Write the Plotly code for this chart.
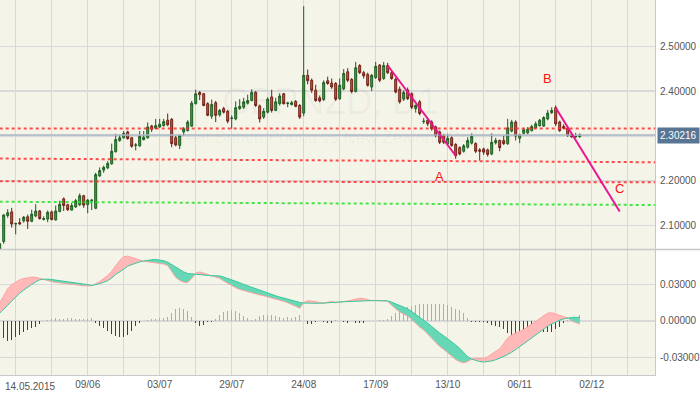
import numpy as np
import pandas as pd
import plotly.graph_objects as go

# ---------------- data ----------------
dates = pd.bdate_range("2015-05-08", "2015-12-31")

opens = [2.040, 2.065, 2.123, 2.131, 2.104, 2.107, 2.111, 2.120, 2.110, 2.122, 2.133, 2.114, 2.115, 2.131, 2.113, 2.132,
         2.160, 2.147, 2.135, 2.142, 2.147, 2.167, 2.147, 2.156, 2.139, 2.211, 2.224, 2.229, 2.238, 2.265, 2.290, 2.296,
         2.309, 2.296, 2.279, 2.278, 2.292, 2.296, 2.322, 2.317, 2.320, 2.323, 2.335, 2.337, 2.296, 2.279, 2.309, 2.312,
         2.322, 2.372, 2.397, 2.394, 2.372, 2.344, 2.374, 2.347, 2.361, 2.355, 2.339, 2.338, 2.361, 2.364, 2.373, 2.379,
         2.397, 2.367, 2.342, 2.353, 2.387, 2.357, 2.372, 2.394, 2.372, 2.370, 2.377, 2.368, 2.351, 2.435, 2.424, 2.402,
         2.385, 2.381, 2.423, 2.418, 2.417, 2.383, 2.405, 2.443, 2.426, 2.399, 2.457, 2.441, 2.437, 2.409, 2.430, 2.458,
         2.428, 2.457, 2.441, 2.426, 2.404, 2.382, 2.402, 2.394, 2.361, 2.376, 2.332, 2.335, 2.331, 2.320, 2.309, 2.301,
         2.283, 2.296, 2.281, 2.274, 2.266, 2.275, 2.284, 2.283, 2.269, 2.271, 2.269, 2.260, 2.285, 2.290, 2.290, 2.283,
         2.311, 2.331, 2.295, 2.306, 2.307, 2.312, 2.318, 2.323, 2.322, 2.338, 2.352, 2.363, 2.331, 2.321, 2.317, 2.303,
         2.298, 2.2985]
highs = [2.062, 2.126, 2.137, 2.140, 2.107, 2.117, 2.122, 2.125, 2.136, 2.148, 2.135, 2.121, 2.134, 2.134, 2.145, 2.156,
         2.163, 2.149, 2.151, 2.160, 2.172, 2.169, 2.160, 2.160, 2.218, 2.230, 2.234, 2.244, 2.283, 2.305, 2.303, 2.311,
         2.312, 2.298, 2.284, 2.311, 2.311, 2.330, 2.325, 2.338, 2.338, 2.338, 2.350, 2.340, 2.300, 2.304, 2.320, 2.335,
         2.378, 2.403, 2.400, 2.396, 2.375, 2.381, 2.378, 2.360, 2.365, 2.358, 2.346, 2.377, 2.382, 2.385, 2.392, 2.404,
         2.400, 2.370, 2.362, 2.386, 2.403, 2.385, 2.395, 2.396, 2.376, 2.378, 2.380, 2.371, 2.589, 2.448, 2.428, 2.414,
         2.390, 2.424, 2.432, 2.428, 2.420, 2.428, 2.449, 2.451, 2.429, 2.465, 2.460, 2.445, 2.441, 2.438, 2.465, 2.460,
         2.465, 2.463, 2.444, 2.430, 2.410, 2.402, 2.408, 2.397, 2.370, 2.380, 2.340, 2.338, 2.335, 2.323, 2.312, 2.305,
         2.305, 2.299, 2.284, 2.277, 2.282, 2.297, 2.306, 2.286, 2.273, 2.274, 2.272, 2.306, 2.296, 2.292, 2.300, 2.338,
         2.336, 2.335, 2.305, 2.318, 2.320, 2.325, 2.332, 2.338, 2.344, 2.358, 2.364, 2.368, 2.334, 2.326, 2.321, 2.306,
         2.307, 2.306]
lows = [2.030, 2.060, 2.118, 2.096, 2.081, 2.103, 2.107, 2.093, 2.108, 2.119, 2.114, 2.112, 2.108, 2.112, 2.112, 2.130,
        2.133, 2.133, 2.134, 2.140, 2.144, 2.140, 2.128, 2.135, 2.137, 2.209, 2.218, 2.226, 2.236, 2.263, 2.287, 2.294,
        2.292, 2.274, 2.268, 2.276, 2.290, 2.294, 2.309, 2.315, 2.318, 2.321, 2.322, 2.275, 2.277, 2.271, 2.300, 2.310,
        2.320, 2.370, 2.380, 2.366, 2.344, 2.338, 2.331, 2.343, 2.350, 2.328, 2.316, 2.335, 2.358, 2.360, 2.370, 2.377,
        2.365, 2.330, 2.338, 2.350, 2.352, 2.355, 2.368, 2.370, 2.364, 2.368, 2.364, 2.338, 2.344, 2.415, 2.396, 2.376,
        2.375, 2.378, 2.414, 2.405, 2.378, 2.380, 2.402, 2.420, 2.395, 2.397, 2.438, 2.428, 2.410, 2.400, 2.427, 2.420,
        2.425, 2.438, 2.425, 2.395, 2.372, 2.378, 2.380, 2.360, 2.352, 2.346, 2.327, 2.322, 2.312, 2.297, 2.282, 2.282,
        2.280, 2.276, 2.249, 2.257, 2.263, 2.272, 2.281, 2.262, 2.245, 2.258, 2.254, 2.257, 2.281, 2.266, 2.280, 2.280,
        2.308, 2.290, 2.284, 2.303, 2.304, 2.310, 2.316, 2.321, 2.320, 2.335, 2.349, 2.322, 2.309, 2.315, 2.298, 2.296,
        2.295, 2.296]
closes = [2.060, 2.124, 2.129, 2.104, 2.105, 2.104, 2.119, 2.110, 2.126, 2.133, 2.116, 2.116, 2.130, 2.114, 2.133, 2.148,
          2.145, 2.136, 2.145, 2.156, 2.167, 2.146, 2.157, 2.157, 2.214, 2.223, 2.230, 2.239, 2.266, 2.292, 2.296, 2.306,
          2.294, 2.277, 2.280, 2.299, 2.297, 2.320, 2.315, 2.323, 2.326, 2.332, 2.325, 2.283, 2.280, 2.301, 2.316, 2.331,
          2.373, 2.394, 2.392, 2.368, 2.346, 2.370, 2.346, 2.357, 2.353, 2.333, 2.340, 2.363, 2.366, 2.376, 2.379, 2.397,
          2.368, 2.338, 2.355, 2.382, 2.357, 2.376, 2.389, 2.372, 2.373, 2.374, 2.366, 2.342, 2.435, 2.423, 2.402, 2.379,
          2.378, 2.419, 2.417, 2.409, 2.382, 2.413, 2.439, 2.424, 2.399, 2.452, 2.441, 2.434, 2.413, 2.435, 2.455, 2.424,
          2.457, 2.441, 2.428, 2.398, 2.376, 2.397, 2.383, 2.364, 2.368, 2.350, 2.333, 2.327, 2.316, 2.301, 2.286, 2.286,
          2.295, 2.279, 2.256, 2.260, 2.278, 2.290, 2.299, 2.266, 2.266, 2.264, 2.259, 2.286, 2.290, 2.274, 2.283, 2.318,
          2.331, 2.300, 2.303, 2.314, 2.315, 2.321, 2.327, 2.335, 2.341, 2.351, 2.357, 2.327, 2.312, 2.317, 2.301, 2.298,
          2.299, 2.30216]

macd_main = [0.0150, 0.0205, 0.0265, 0.0300, 0.0322, 0.0339, 0.0350, 0.0358, 0.0362, 0.0360, 0.0352,
             0.0340, 0.0330, 0.0322, 0.0318, 0.0315, 0.0312, 0.0310, 0.0306, 0.0300, 0.0295, 0.0290, 0.0287, 0.0290,
             0.0305, 0.0325, 0.0350, 0.0375, 0.0410, 0.0455, 0.0500, 0.0530, 0.0535, 0.0525, 0.0512, 0.0500,
             0.0493, 0.0488, 0.0484, 0.0480, 0.0475, 0.0470, 0.0458, 0.0410, 0.0360, 0.0335, 0.0320, 0.0318, 0.0350,
             0.0395, 0.0405, 0.0395, 0.0380, 0.0370,
             0.0362, 0.0352, 0.0330, 0.0310, 0.0290, 0.0275, 0.0260, 0.0250, 0.0240, 0.0230, 0.0222, 0.0215, 0.0208,
             0.0200, 0.0192, 0.0182, 0.0172, 0.0162, 0.0150, 0.0138, 0.0122, 0.0105,
             0.0150, 0.0168, 0.0165, 0.0160, 0.0152, 0.0146, 0.0155, 0.0162, 0.0150, 0.0155, 0.0163, 0.0165,
             0.0172, 0.0182, 0.0188, 0.0185, 0.0175, 0.0168, 0.0168,
             0.0170, 0.0168, 0.0162, 0.0130, 0.0100, 0.0075, 0.0058, 0.0040, 0.0012, -0.0020, -0.0050, -0.0074,
             -0.0110, -0.0145, -0.0180, -0.0210, -0.0235, -0.0260, -0.0290, -0.0318, -0.0336, -0.0345, -0.0335,
             -0.0315, -0.0308, -0.0308, -0.0308, -0.0295, -0.0272, -0.0250, -0.0230, -0.0185, -0.0140, -0.0115,
             -0.0100, -0.0088, -0.0070, -0.0048, -0.0025, 0.0000, 0.0022, 0.0045, 0.0065, 0.0068, 0.0058, 0.0045, 0.0032,
             0.0026, 0.0000, -0.0015, -0.0025]
macd_signal = [0.0065, 0.0095, 0.0130, 0.0165, 0.0200, 0.0229, 0.0255, 0.0282, 0.0302, 0.0322, 0.0340,
               0.0345, 0.0345, 0.0342, 0.0338, 0.0333, 0.0328, 0.0324, 0.0320, 0.0316, 0.0312, 0.0308, 0.0300, 0.0293,
               0.0298, 0.0308, 0.0320, 0.0332, 0.0355, 0.0385, 0.0405, 0.0430, 0.0452, 0.0465, 0.0478, 0.0488,
               0.0495, 0.0500, 0.0505, 0.0508, 0.0505, 0.0497, 0.0485, 0.0465, 0.0440, 0.0420, 0.0405, 0.0392, 0.0388,
               0.0385, 0.0380, 0.0378, 0.0376, 0.0374,
               0.0373, 0.0372, 0.0362, 0.0352, 0.0342, 0.0330, 0.0316, 0.0302, 0.0290, 0.0278, 0.0265, 0.0252, 0.0238,
               0.0228, 0.0218, 0.0208, 0.0198, 0.0188, 0.0180, 0.0171, 0.0162, 0.0153,
               0.0149, 0.0146, 0.0145, 0.0146, 0.0146, 0.0147, 0.0149, 0.0151, 0.0154, 0.0157, 0.0159, 0.0161,
               0.0162, 0.0164, 0.0165, 0.0166, 0.0167, 0.0168, 0.0168,
               0.0168, 0.0167, 0.0166, 0.0155, 0.0140, 0.0125, 0.0112, 0.0100, 0.0078, 0.0055, 0.0032, 0.0008,
               -0.0018, -0.0045, -0.0075, -0.0100, -0.0122, -0.0145, -0.0170, -0.0198, -0.0226, -0.0260, -0.0295,
               -0.0315, -0.0327, -0.0335, -0.0339, -0.0337, -0.0330, -0.0320, -0.0309, -0.0293, -0.0277, -0.0258,
               -0.0236, -0.0212, -0.0188, -0.0162, -0.0138, -0.0112, -0.0088, -0.0065, -0.0043, -0.0025, -0.0008,
               0.0006, 0.0017, 0.0024, 0.0029, 0.0030, 0.0030]
macd_hist = [-0.0120, -0.0143, -0.0165, -0.0157, -0.0135, -0.0116, -0.0088, -0.0074, -0.0060, -0.0047, -0.0025,
             0.0003, 0.0008, 0.0019, 0.0022, 0.0014, 0.0019, 0.0022, 0.0025, 0.0014, 0.0014, 0.0019, 0.0019, 0.0025,
             -0.0014, -0.0041, -0.0060, -0.0080, -0.0107, -0.0127, -0.0135, -0.0135, -0.0113, -0.0080, -0.0043, -0.0020,
             0.0003, 0.0008, 0.0014, 0.0018, 0.0022, 0.0022, 0.0030, 0.0069, 0.0099, 0.0107, 0.0102, 0.0083, 0.0036,
             -0.0020, -0.0039, -0.0033, -0.0010, -0.0006,
             0.0019, 0.0050, 0.0077, 0.0085, 0.0090, 0.0083, 0.0063, 0.0044, 0.0028, 0.0008, 0.0017, 0.0041, 0.0052,
             0.0047, 0.0047, 0.0044, 0.0030, 0.0028, 0.0030, 0.0028, 0.0030, 0.0050,
             0.0000, -0.0028, -0.0022, -0.0011, 0.0000, -0.0011, -0.0019, -0.0014, 0.0008, 0.0000, -0.0011, -0.0019,
             0.0000, -0.0019, -0.0019, -0.0014, 0.0000, 0.0000, 0.0003,
             0.0008, 0.0008, 0.0014, 0.0041, 0.0063, 0.0085, 0.0104, 0.0118, 0.0127, 0.0132, 0.0138, 0.0140, 0.0140,
             0.0140, 0.0140, 0.0143, 0.0138, 0.0130, 0.0118, 0.0099, 0.0090, 0.0063, 0.0022,
             -0.0006, -0.0006, -0.0006, -0.0011, -0.0019, -0.0033, -0.0041, -0.0052, -0.0069, -0.0096, -0.0124,
             -0.0121, -0.0116, -0.0110, -0.0107, -0.0102, -0.0096, -0.0090, -0.0088, -0.0088, -0.0088, -0.0069,
             -0.0047, -0.0019, 0.0008, 0.0022, 0.0036, 0.0047]

tick_dates = ["2015-05-14", "2015-06-09", "2015-07-03", "2015-07-29", "2015-08-24",
              "2015-09-17", "2015-10-13", "2015-11-06", "2015-12-02"]
tick_labels = ["14.05.2015", "09/06", "03/07", "29/07", "24/08", "17/09", "13/10", "06/11", "02/12"]

price_ticks = [2.10, 2.20, 2.30, 2.40, 2.50]
macd_ticks = [-0.03, 0.0, 0.03]
macd_tick_labels = ["-0.03000", "0.00000", "0.03000"]

last_price = 2.30216
# support / resistance lines: (start date, start price, end date, end price)
level_lines_red = [("2015-05-08", 2.3168, "2015-12-24", 2.3165),
                   ("2015-05-08", 2.2497, "2015-12-24", 2.2415),
                   ("2015-05-08", 2.1990, "2015-12-24", 2.1967)]
level_lines_green = [("2015-05-08", 2.1536, "2015-12-24", 2.1463)]
wave_lines = [("2015-09-22", 2.457, "2015-10-15", 2.256),
              ("2015-11-19", 2.363, "2015-12-11", 2.132)]
wave_labels = [("A", "2015-10-09", 2.2095), ("B", "2015-11-17", 2.4285), ("C", "2015-12-11", 2.183)]

# ---------------- helpers ----------------
n = min(len(opens), len(highs), len(lows), len(closes))
pos_all = np.arange(len(dates))
xb = pos_all[:n].astype(float)


def dpos(d):
    return float(dates.get_loc(pd.Timestamp(d)))


p0 = dpos(tick_dates[0])
x_range = [p0 - 3.925, p0 + 159.825]
grid_vals = list(np.arange(p0, x_range[1], 9.0))
label_pos = {dpos(d): lab for d, lab in zip(tick_dates, tick_labels)}
grid_text = [("" if (v == p0) else label_pos.get(v, "")) for v in grid_vals]

GRID = "#d9d9d9"
BG = "#f4f4e8"
FONT = "Liberation Sans, Arial, sans-serif"
TXT = "#555555"

fig = go.Figure()

# watermark (behind everything)
xc = (x_range[0] + x_range[1]) / 2 + 0.7
fig.add_trace(go.Scatter(x=[xc, xc], y=[2.370, 2.2944], mode="text",
                         text=["GBPNZD, D1", "Great Britain Pound vs New Zealand Dollar"],
                         textfont=dict(size=[36, 17], color="rgba(0,0,0,0.04)", family=FONT),
                         hoverinfo="skip", showlegend=False, xaxis="x", yaxis="y"))

# current price line
fig.add_trace(go.Scatter(x=[x_range[0] - 5, x_range[1] + 5], y=[last_price, last_price], mode="lines",
                         line=dict(color="#a9b7c6", width=1.5), hoverinfo="skip", showlegend=False,
                         xaxis="x", yaxis="y"))

# candles
fig.add_trace(go.Candlestick(
    x=xb, open=opens[:n], high=highs[:n], low=lows[:n], close=closes[:n],
    increasing=dict(line=dict(color="#1b5e20", width=1), fillcolor="#3f9e48"),
    decreasing=dict(line=dict(color="#6e1e14", width=1), fillcolor="#c9564a"),
    whiskerwidth=0, showlegend=False, hoverinfo="skip", xaxis="x", yaxis="y"))

# support / resistance dotted lines
for (d0, v0, d1, v1) in level_lines_red:
    fig.add_trace(go.Scatter(x=[dpos(d0), dpos(d1)], y=[v0, v1], mode="lines",
                             line=dict(color="rgba(255,45,45,0.85)", width=2, dash="dot"),
                             hoverinfo="skip", showlegend=False, xaxis="x", yaxis="y"))
for (d0, v0, d1, v1) in level_lines_green:
    fig.add_trace(go.Scatter(x=[dpos(d0), dpos(d1)], y=[v0, v1], mode="lines",
                             line=dict(color="rgba(40,225,40,0.85)", width=2, dash="dot"),
                             hoverinfo="skip", showlegend=False, xaxis="x", yaxis="y"))

# wave lines
for (d0, v0, d1, v1) in wave_lines:
    fig.add_trace(go.Scatter(x=[dpos(d0), dpos(d1)], y=[v0, v1], mode="lines",
                             line=dict(color="#ea1690", width=2),
                             hoverinfo="skip", showlegend=False, xaxis="x", yaxis="y"))

# ---- MACD panel ----
m = np.array(macd_main[:n], dtype=float)
s = np.array(macd_signal[:n], dtype=float)
X, M, S = [xb[0]], [m[0]], [s[0]]
for i in range(1, len(m)):
    d0 = m[i - 1] - s[i - 1]
    d1 = m[i] - s[i]
    if d0 * d1 < 0:
        t = d0 / (d0 - d1)
        xcr = xb[i - 1] + t * (xb[i] - xb[i - 1])
        vcr = s[i - 1] + t * (s[i] - s[i - 1])
        X.append(xcr); M.append(vcr); S.append(vcr)
    X.append(xb[i]); M.append(m[i]); S.append(s[i])
X, M, S = map(np.array, (X, M, S))
upper = np.maximum(M, S)
lower = np.minimum(M, S)

common = dict(mode="lines", hoverinfo="skip", showlegend=False, xaxis="x2", yaxis="y2")
fig.add_trace(go.Scatter(x=X, y=S, line=dict(width=0), **common))
fig.add_trace(go.Scatter(x=X, y=upper, line=dict(width=0), fill="tonexty", fillcolor="#ffb9b9", **common))
fig.add_trace(go.Scatter(x=X, y=S, line=dict(width=0), **common))
fig.add_trace(go.Scatter(x=X, y=lower, line=dict(width=0), fill="tonexty", fillcolor="#66d8b6", **common))
fig.add_trace(go.Scatter(x=X, y=M, line=dict(color="#ffa3a3", width=1), **common))
fig.add_trace(go.Scatter(x=X, y=S, line=dict(color="#3cc79c", width=1), **common))

h = macd_hist[:n]
fig.add_trace(go.Bar(x=xb[:len(h)], y=h, width=0.25,
                     marker=dict(color=["#9cc463" if v >= 0 else "#6b245f" for v in h], line=dict(width=0)),
                     hoverinfo="skip", showlegend=False, xaxis="x2", yaxis="y2"))

# ---------------- layout ----------------
split = 0.335
axis_common = dict(range=x_range, tickvals=grid_vals, showgrid=True, gridcolor=GRID, gridwidth=1.3,
                   zeroline=False, ticks="", fixedrange=True)
fig.update_layout(
    width=700, height=394,
    margin=dict(l=0, r=45, t=0, b=19),
    paper_bgcolor="white", plot_bgcolor=BG,
    font=dict(family=FONT, size=10, color=TXT),
    bargap=0, showlegend=False, hovermode=False,
    xaxis=dict(anchor="y", domain=[0, 1], showticklabels=False, rangeslider=dict(visible=False),
               showline=False, **axis_common),
    xaxis2=dict(anchor="y2", domain=[0, 1], ticktext=grid_text, showticklabels=True,
                tickfont=dict(size=10, color=TXT), showline=True, linecolor="#c8c8c8", linewidth=1,
                **axis_common),
    yaxis=dict(anchor="x", domain=[split, 1], side="right", range=[2.0475, 2.6028],
               tickvals=price_ticks, ticktext=["%.5f" % v for v in price_ticks],
               showgrid=True, gridcolor=GRID, gridwidth=1.3, zeroline=False, fixedrange=True,
               showline=True, linecolor="#c8c8c8", linewidth=1, ticks="outside", ticklen=2,
               tickcolor="rgba(0,0,0,0)", tickfont=dict(size=10, color=TXT)),
    yaxis2=dict(anchor="x2", domain=[0, split], side="right", range=[-0.0446, 0.0591],
                tickvals=macd_ticks, ticktext=macd_tick_labels,
                showgrid=True, gridcolor=GRID, gridwidth=1.3, zeroline=False, fixedrange=True,
                showline=True, linecolor="#c8c8c8", linewidth=1, ticks="outside", ticklen=2,
                tickcolor="rgba(0,0,0,0)", tickfont=dict(size=10, color=TXT)),
)

# separator between panels spanning the full width
fig.add_shape(type="line", xref="paper", yref="paper", x0=0, x1=700 / 655, y0=split, y1=split,
              line=dict(color="#c8c8c8", width=1.5))

# first date label (left aligned so it is not clipped)
fig.add_annotation(x=p0, y=0, xref="x2", yref="paper", text=tick_labels[0], showarrow=False,
                   xanchor="left", yanchor="top", xshift=-13, yshift=-4,
                   font=dict(size=10, color=TXT, family=FONT))

# wave labels
for lab, d, v in wave_labels:
    fig.add_annotation(x=dpos(d), y=v, xref="x", yref="y", text=lab, showarrow=False,
                       font=dict(size=13, color="#ff1010", family=FONT))

# current price box
fig.add_annotation(x=1, y=last_price, xref="paper", yref="y", text="%.5f" % last_price, showarrow=False,
                   xanchor="left", xshift=2, bgcolor="#587593", borderpad=2,
                   font=dict(size=10, color="white", family=FONT))

fig.write_html("out.html", config={"displayModeBar": False, "staticPlot": True},
               post_script="document.body.style.margin='0';document.body.style.padding='0';")
